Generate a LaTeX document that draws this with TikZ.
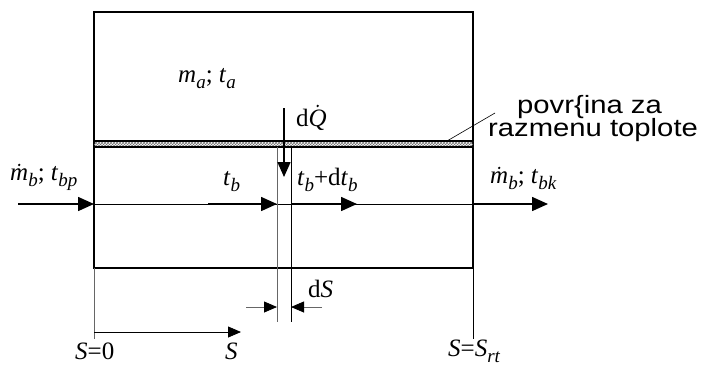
\documentclass[tikz,border=0pt]{standalone}
\usepackage{fontspec}
\setmainfont{Liberation Serif}
\newfontfamily\sansf{Liberation Sans}
\usetikzlibrary{arrows.meta,patterns}
\newcommand\lo[1]{\raisebox{-6.5pt}{\fontsize{19}{19}\selectfont\textit{#1}}}
\newcommand\dotit[2]{\ooalign{\textit{#1}\cr\hidewidth\raisebox{#2}{\tikz\fill (0,0) circle (1.3pt);}\hidewidth\cr}}
\newcommand\wide[1]{\scalebox{1.17}[1]{#1}}
\begin{document}
\begin{tikzpicture}[x=1pt,y=-1pt,
  lbl/.style={inner sep=0pt,anchor=base west,font=\fontsize{25}{28}\selectfont},
  slbl/.style={inner sep=0pt,anchor=base west,font=\sansf\fontsize{25}{28}\selectfont},
  thickln/.style={line width=1.6pt},
  thinln/.style={line width=0.8pt},
  grayln/.style={line width=0.8pt,draw=black!60},
  bigarr/.style={-{Triangle[length=16pt,width=14pt]}},
  smallarr/.style={-{Triangle[length=13pt,width=11pt,color=black]}},
]
\useasboundingbox (0,0) rectangle (707,365);
% main box
\draw[thickln] (94,12) rectangle (473,268);
% heat exchange wall
\fill[pattern=crosshatch,pattern color=black!55] (94,141) rectangle (473,147);
\draw[thickln] (94,141) -- (473,141);
\draw[thickln] (94,147) -- (473,147);
% coordinates
\coordinate (in0) at (18,204);
\coordinate (in1) at (94,204);
\coordinate (tb0) at (208,204);
\coordinate (tb1) at (277,204);
\coordinate (td0) at (291,204);
\coordinate (td1) at (357,204);
\coordinate (out0) at (473,204);
\coordinate (out1) at (548,204);
\coordinate (q0) at (284,108);
\coordinate (q1) at (284,177);
\coordinate (vl0) at (277,147);
\coordinate (vl1) at (277,322);
\coordinate (vr0) at (291,147);
\coordinate (vr1) at (291,322);
\coordinate (dsl0) at (246,307);
\coordinate (dsl1) at (277,307);
\coordinate (dsr0) at (322,307);
\coordinate (dsr1) at (291,307);
\coordinate (s0) at (94,332);
\coordinate (s1) at (241,332);
\coordinate (ex0) at (94,268);
\coordinate (ex1) at (94,339);
\coordinate (ey0) at (473,268);
\coordinate (ey1) at (473,339);
\coordinate (w0) at (447,141);
\coordinate (w1) at (495,113);
% flow line
\draw[thinln] (in1) -- (out0);
\draw[thickln,bigarr] (in0) -- (in1);
\draw[thickln,bigarr] (tb0) -- (tb1);
\draw[thickln,bigarr] (td0) -- (td1);
\draw[thickln,bigarr] (out0) -- (out1);
% element
\draw[grayln] (vl0) -- (vl1);
\draw[thinln] (vr0) -- (vr1);
\draw[thickln,-{Triangle[length=15pt,width=13pt]}] (q0) -- (q1);
\draw[grayln,smallarr] (dsl0) -- (dsl1);
\draw[grayln,smallarr] (dsr0) -- (dsr1);
% S axis
\draw[grayln] (ex0) -- (ex1);
\draw[thinln] (ey0) -- (ey1);
\draw[thinln,smallarr] (s0) -- (s1);
% leader
\draw[line width=0.6pt] (w0) -- (w1);
% labels
\node[lbl] (ma) at (178,82) {\textit{m}\lo{a}; \textit{t}\lo{a}};
\node[lbl] (dQ) at (296,126) {d\dotit{Q}{0.75em}};
\node[lbl] (mbin) at (10,180) {\dotit{m}{0.55em}\lo{b}; \textit{t}\lo{bp}};
\node[lbl] (tb) at (223,185) {\textit{t}\lo{b}};
\node[lbl] (tbdt) at (297,185) {\textit{t}\lo{b}+d\textit{t}\lo{b}};
\node[lbl] (mbout) at (490,183) {\dotit{m}{0.55em}\lo{b}; \textit{t}\lo{bk}};
\node[lbl] (dS) at (308,297) {d\textit{S}};
\node[lbl] (S0) at (75,359) {\textit{S}=0};
\node[lbl] (S) at (225,359) {\textit{S}};
\node[lbl] (Srt) at (448,356) {\textit{S}=\textit{S}\lo{rt}};
\node[slbl] (p1) at (517,113) {\wide{povr\{ina za}};
\node[slbl] (p2) at (488,136) {\wide{razmenu toplote}};
\end{tikzpicture}
\end{document}
